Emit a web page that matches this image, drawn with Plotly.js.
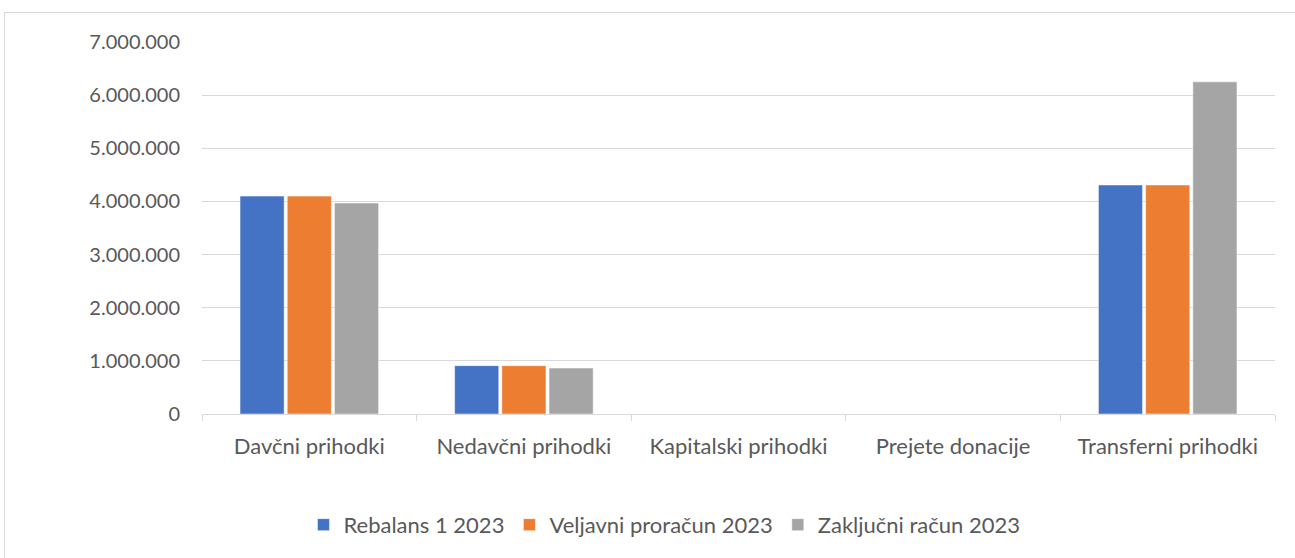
<!DOCTYPE html>
<html>
<head>
<meta charset="utf-8">
<script src="https://cdn.plot.ly/plotly-3.0.1.min.js"></script>
<style>
  html, body { margin: 0; padding: 0; background: #fff; }
  #frame { position: absolute; left: 4px; top: 12px; width: 1300px; height: 560px; border-left: 1px solid #D9D9D9; border-top: 1px solid #D9D9D9; }
  #chart { position: absolute; left: 0; top: 0; width: 1295px; height: 558px; }
</style>
</head>
<body>
<div id="frame"></div>
<div id="chart"></div>
<script>
const categories = ["Davčni prihodki", "Nedavčni prihodki", "Kapitalski prihodki", "Prejete donacije", "Transferni prihodki"];
const seriesNames = ["Rebalans 1 2023", "Veljavni proračun 2023", "Zaključni račun 2023"];
const rebalans = [4100000, 910000, 0, 0, 4310000];
const veljavni = [4100000, 910000, 0, 0, 4310000];
const zakljucni = [3970000, 865000, 0, 0, 6250000];
const colors = ["#4472C4", "#ED7D31", "#A5A5A5"];
const values = [rebalans, veljavni, zakljucni];

const traces = values.map((v, i) => ({
  type: "bar",
  name: seriesNames[i],
  x: categories,
  y: v,
  marker: { color: colors[i], line: { color: "#FFFFFF", width: 0.5 } },
  hoverinfo: "x+y+name"
}));

const layout = {
  width: 1295, height: 558,
  paper_bgcolor: "rgba(0,0,0,0)",
  plot_bgcolor: "rgba(0,0,0,0)",
  separators: ",.",
  font: { family: "Lato, 'Open Sans', sans-serif", size: 22, color: "#595959" },
  margin: { l: 202, r: 20, t: 42, b: 144 },
  barmode: "group",
  bargap: 0.34,
  bargroupgap: 0.065,
  showlegend: true,
  legend: { orientation: "h", x: 0.431, xanchor: "center", y: -0.298, yanchor: "middle",
            font: { size: 22, color: "#595959" }, itemwidth: 30, tracegroupgap: 0 },
  xaxis: {
    type: "category",
    showline: true, linecolor: "#D9D9D9", linewidth: 1,
    ticks: "outside", tickson: "boundaries", ticklen: 6, tickcolor: "#D9D9D9",
    ticklabelstandoff: 13,
    showgrid: false, fixedrange: true,
    tickfont: { size: 22, color: "#595959" }
  },
  yaxis: {
    range: [0, 7000000], dtick: 1000000, tickformat: ",.0f",
    showgrid: true, gridcolor: "#D9D9D9", gridwidth: 1,
    zeroline: false, showline: false, ticks: "",
    ticklabelstandoff: 21,
    tickfont: { size: 20, color: "#595959" }, fixedrange: true
  }
};

Plotly.newPlot("chart", traces, layout, { displayModeBar: false, staticPlot: true });
</script>
</body>
</html>
